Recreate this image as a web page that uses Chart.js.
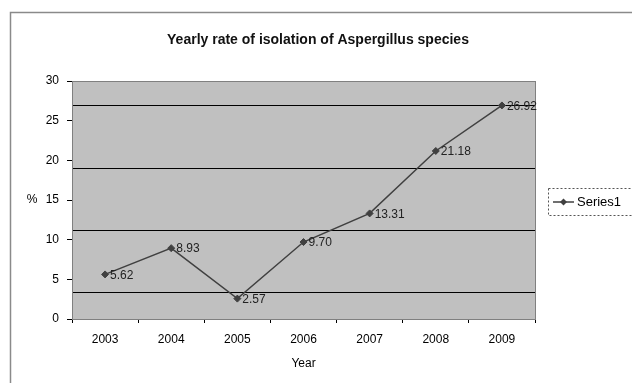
<!DOCTYPE html>
<html>
<head>
<meta charset="utf-8">
<script src="https://cdn.jsdelivr.net/npm/chart.js@4"></script>
<style>
    html, body { margin: 0; padding: 0; background: #fff; }
    #chartRate { display: block; }
</style>
</head>
<body>
<canvas id="chartRate" width="632" height="383"></canvas>
<script>

    // data
    const years = ['2003', '2004', '2005', '2006', '2007', '2008', '2009']
    const rates = [5.62, 8.93, 2.57, 9.70, 13.31, 21.18, 26.92]
    const rateLabels = ['5.62', '8.93', '2.57', '9.70', '13.31', '21.18', '26.92']
    const yTicks = [0, 5, 10, 15, 20, 25, 30]
    // the horizontal lines in the plot do not sit on the tick values
    const bandLines = [3.3, 11.1, 19.0, 26.9]

    const fontName = '"Liberation Sans", Arial, sans-serif'
    const titleText = 'Yearly rate of isolation of Aspergillus species'

    /*
    * Background, borders, title, value labels, "%" and the legend
    */
    const decorations = {
        id: 'decorations',
        beforeDraw(chart) {
            const ctx = chart.ctx
            const a = chart.chartArea
            ctx.save()
            ctx.fillStyle = '#fff'
            ctx.fillRect(0, 0, chart.width, chart.height)
            ctx.fillStyle = '#c0c0c0'
            ctx.fillRect(a.left, a.top, a.right - a.left, a.bottom - a.top)
            // outer frame
            ctx.strokeStyle = '#8a8a8a'
            ctx.lineWidth = 1.5
            ctx.strokeRect(10.5, 12.5, 660, 400)
            ctx.restore()
        },
        afterDatasetsDraw(chart) {
            const ctx = chart.ctx
            const a = chart.chartArea
            ctx.save()
            ctx.strokeStyle = '#808080'
            ctx.lineWidth = 1
            ctx.strokeRect(a.left + 0.5, a.top + 0.5, a.right - a.left, a.bottom - a.top)

            // title, centred on the whole frame rather than the plot
            ctx.font = 'bold 14px ' + fontName
            ctx.fillStyle = '#111'
            ctx.textAlign = 'center'
            ctx.textBaseline = 'middle'
            ctx.fillText(titleText, 318, 40)

            // value labels next to each point
            ctx.font = '12px ' + fontName
            ctx.fillStyle = '#222'
            ctx.textAlign = 'left'
            chart.getDatasetMeta(0).data.forEach((pt, i) => {
                ctx.fillText(rateLabels[i], pt.x + 5, pt.y + 1)
            })

            // "%" axis title, horizontal like in the original
            ctx.font = '12px ' + fontName
            ctx.textAlign = 'center'
            ctx.fillStyle = '#000'
            ctx.fillText('%', 32, (a.top + a.bottom) / 2)

            // legend box
            const lx = 548, ly = 188
            ctx.setLineDash([2, 2])
            ctx.strokeStyle = '#555'
            ctx.strokeRect(lx + 0.5, ly + 0.5, 100, 27)
            ctx.setLineDash([])
            const my = ly + 14
            ctx.strokeStyle = '#404040'
            ctx.lineWidth = 1.5
            ctx.beginPath()
            ctx.moveTo(lx + 5, my)
            ctx.lineTo(lx + 26, my)
            ctx.stroke()
            ctx.fillStyle = '#404040'
            ctx.beginPath()
            ctx.moveTo(lx + 15.5, my - 3.5)
            ctx.lineTo(lx + 19, my)
            ctx.lineTo(lx + 15.5, my + 3.5)
            ctx.lineTo(lx + 12, my)
            ctx.closePath()
            ctx.fill()
            ctx.fillStyle = '#000'
            ctx.textAlign = 'left'
            ctx.font = '13px ' + fontName
            ctx.fillText('Series1', lx + 29, my)
            ctx.restore()
        }
    }

    const chartRate = new Chart(document.getElementById('chartRate').getContext('2d'), {
        type: 'line',
        data: {
            labels: years,
            datasets: [{
                label: 'Series1',
                data: rates,
                borderColor: '#404040',
                backgroundColor: '#404040',
                borderWidth: 1.5,
                pointStyle: 'rectRot',
                pointRadius: 3.5,
                pointBorderWidth: 1,
                tension: 0,
                yAxisID: 'y'
            }]
        },
        options: {
            responsive: false,
            animation: false,
            layout: {
                padding: { left: 10, right: 97, top: 81, bottom: 8 }
            },
            plugins: {
                legend: { display: false },
                tooltip: { enabled: false },
                title: { display: false }
            },
            scales: {
                x: {
                    offset: true,
                    grid: {
                        offset: true,
                        drawOnChartArea: false,
                        drawTicks: true,
                        tickLength: 4,
                        color: '#000'
                    },
                    border: { display: true, color: '#808080' },
                    ticks: {
                        color: '#000',
                        font: { family: fontName, size: 12 },
                        padding: 9,
                        maxRotation: 0
                    },
                    title: {
                        display: true,
                        text: 'Year',
                        color: '#000',
                        font: { family: fontName, size: 12 },
                        padding: { top: 4, bottom: 4 }
                    },
                    afterFit: (scale) => { scale.height = 56 }
                },
                y: {
                    min: 0,
                    max: 30,
                    position: 'left',
                    afterBuildTicks: (axis) => { axis.ticks = yTicks.map(v => ({ value: v })) },
                    grid: {
                        drawOnChartArea: false,
                        drawTicks: true,
                        tickLength: 5,
                        color: '#000'
                    },
                    border: { display: true, color: '#808080' },
                    ticks: {
                        color: '#000',
                        font: { family: fontName, size: 12 },
                        padding: 8
                    },
                    afterFit: (scale) => { scale.width = 62 }
                },
                y2: {
                    min: 0,
                    max: 30,
                    position: 'left',
                    afterBuildTicks: (axis) => { axis.ticks = bandLines.map(v => ({ value: v })) },
                    grid: {
                        drawOnChartArea: true,
                        drawTicks: false,
                        color: '#000',
                        lineWidth: 1
                    },
                    border: { display: false },
                    ticks: { display: false },
                    afterFit: (scale) => { scale.width = 0 }
                }
            }
        },
        plugins: [decorations]
    })

</script>
</body>
</html>
